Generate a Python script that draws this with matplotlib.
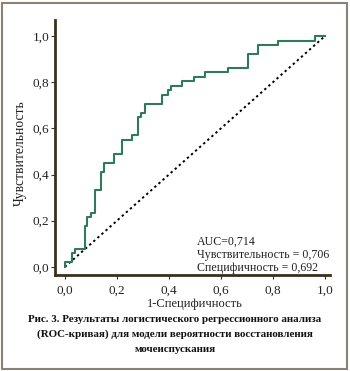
import matplotlib
matplotlib.use("Agg")
import matplotlib.pyplot as plt
from matplotlib.patches import Rectangle

# ROC step curve vertices (1-specificity, sensitivity)
fpr = [0.0, 0.0, 0.026, 0.026, 0.038, 0.038, 0.077, 0.077, 0.086, 0.086, 0.099, 0.099,
       0.115, 0.115, 0.138, 0.138, 0.151, 0.151, 0.190, 0.190, 0.218, 0.218, 0.257, 0.257,
       0.280, 0.280, 0.292, 0.292, 0.308, 0.308, 0.372, 0.372, 0.397, 0.397, 0.408, 0.408,
       0.449, 0.449, 0.497, 0.497, 0.538, 0.538, 0.628, 0.628, 0.705, 0.705, 0.743, 0.743,
       0.820, 0.820, 0.962, 0.962, 1.0]
tpr = [0.0, 0.020, 0.020, 0.059, 0.059, 0.078, 0.078, 0.176, 0.176, 0.216, 0.216, 0.235,
       0.235, 0.333, 0.333, 0.412, 0.412, 0.451, 0.451, 0.490, 0.490, 0.549, 0.549, 0.569,
       0.569, 0.647, 0.647, 0.667, 0.667, 0.706, 0.706, 0.745, 0.745, 0.765, 0.765, 0.784,
       0.784, 0.804, 0.804, 0.824, 0.824, 0.843, 0.843, 0.863, 0.863, 0.922, 0.922, 0.961,
       0.961, 0.980, 0.980, 1.0, 1.0]
ref_x = [0.0, 1.0]
ref_y = [0.0, 1.0]
ticks = [0.0, 0.2, 0.4, 0.6, 0.8, 1.0]
tick_labels = ["0,0", "0,2", "0,4", "0,6", "0,8", "1,0"]
stats = ["AUC=0,714", "Чувствительность = 0,706", "Специфичность = 0,692"]
caption = ["Рис. 3. Результаты логистического регрессионного анализа",
           "(ROC-кривая) для модели вероятности восстановления",
           "мочеиспускания"]

W, H = 350, 371
plt.rcParams['font.family'] = ["Liberation Serif", "DejaVu Serif"]
fig = plt.figure(figsize=(W / 100, H / 100), dpi=100)

ax = fig.add_axes([55 / W, 1 - 275 / H, (330 - 55) / W, (275 - 20) / H])
ax.plot(ref_x, ref_y, color="black", lw=1.4, ls=(0, (1.2, 1.6)))
ax.plot(fpr, tpr, color="#2f7a5c", lw=1.5)
ax.set_xlim(-0.038, 1.019)
ax.set_ylim(-0.035, 1.069)
ax.set_xticks(ticks)
ax.set_xticklabels(tick_labels)
ax.set_yticks(ticks)
ax.set_yticklabels(tick_labels)
for s in ["top", "right"]:
    ax.spines[s].set_visible(False)
for s in ["left", "bottom"]:
    ax.spines[s].set_color("#3a3020")
    ax.spines[s].set_linewidth(2.0)
ax.tick_params(axis="both", direction="out", length=3, width=0.8, color="#3a3020",
               labelsize=9.5, labelcolor="#222222")
ax.tick_params(axis="y", pad=1)
ax.tick_params(axis="x", pad=4)
ax.set_xlabel("1-Специфичность", fontsize=9, color="#222222")
ax.xaxis.set_label_coords((195 - 55) / 275, -(298 - 275) / 255)
ax.set_ylabel("Чувствительность", fontsize=9.8, color="#222222")
ax.yaxis.set_label_coords(-(55 - 27) / 275, (275 - 153) / 255)

for i, t in enumerate(stats):
    fig.text(197 / W, 1 - (242 + 13 * i) / H, t, fontsize=8.6, ha="left", va="center",
             color="#222222")

for i, t in enumerate(caption):
    fig.text(175 / W, 1 - (319 + 15.5 * i) / H, t, fontsize=7.9, fontweight="bold",
             ha="center", va="center", color="#111111")

fig.patches.append(Rectangle((2 / W, 2 / H), 345 / W, 366 / H, transform=fig.transFigure,
                             fill=False, edgecolor="#8a8275", lw=1.5))

fig.savefig("out.png", dpi=100)
